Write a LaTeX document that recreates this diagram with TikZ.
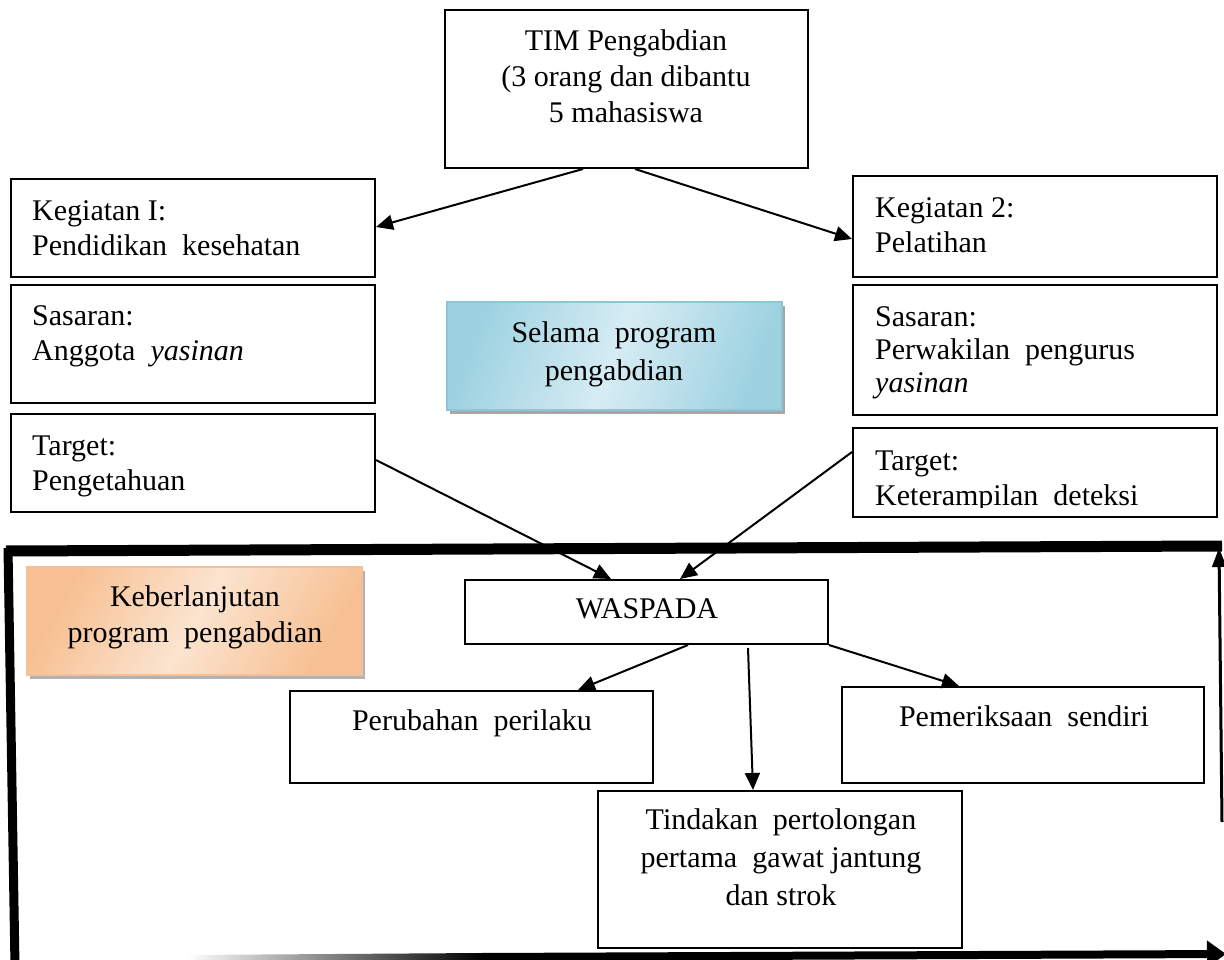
\documentclass[tikz,border=0pt]{standalone}
\usepackage{fontspec}
\setmainfont{Liberation Serif}
\usetikzlibrary{arrows.meta,shadows,calc}
\definecolor{bluedark}{RGB}{158,210,225}
\definecolor{bluelight}{RGB}{214,236,244}
\definecolor{blueedge}{RGB}{140,198,216}
\definecolor{ordark}{RGB}{247,192,146}
\definecolor{orlight}{RGB}{251,228,208}
\definecolor{oredge}{RGB}{246,192,150}
\newcommand\fl{\rule{0pt}{24pt}}
\newcommand\wsp{\hspace{0.5em}}
\begin{document}
\begin{tikzpicture}[x=1pt,y=-1pt,
  box/.style={draw=black, line width=2pt, inner sep=0pt, fill=white},
  txt/.style={inner sep=0pt, align=left, anchor=north west, font=\fontsize{30}{35}\selectfont},
  ctxt/.style={inner sep=0pt, align=center, anchor=north, font=\fontsize{30}{35}\selectfont},
  arr/.style={line width=2pt, -{Triangle[length=17pt,width=15pt]}},
  bluebox/.style={draw=blueedge, line width=1.2pt, inner sep=0pt,
    left color=bluedark, right color=bluedark, middle color=bluelight, shading angle=70,
    drop shadow={shadow xshift=3pt, shadow yshift=-4pt, fill=black, opacity=0.35}},
  orbox/.style={draw=oredge, line width=1.2pt, inner sep=0pt,
    left color=ordark, right color=ordark, middle color=orlight, shading angle=60,
    drop shadow={shadow xshift=3pt, shadow yshift=-4pt, fill=black, opacity=0.3}},
  frameline/.style={draw=black, line cap=butt}
]
\useasboundingbox (0,0) rectangle (1224,960);
\fill[white] (0,0) rectangle (1224,960);

% top box
\node[box, minimum width=363, minimum height=158] (tim) at (626.5,89) {};
\node[ctxt, font=\fontsize{30}{36}\selectfont] (timt) at (626,26) {\fl TIM Pengabdian\\(3 orang dan dibantu\\5 mahasiswa};

% left column
\node[box, minimum width=364, minimum height=98] (k1) at (193,228) {};
\node[txt] (k1t) at (32,196) {\fl Kegiatan I:\\Pendidikan\wsp kesehatan};
\node[box, minimum width=364, minimum height=118] (s1) at (193,344) {};
\node[txt] (s1t) at (32,301) {\fl Sasaran:\\Anggota\wsp \textit{yasinan}};
\node[box, minimum width=364, minimum height=98] (t1) at (193,463) {};
\node[txt] (t1t) at (32,431) {\fl Target:\\Pengetahuan};

% right column
\node[box, minimum width=364, minimum height=101] (k2) at (1035,226.5) {};
\node[txt] (k2t) at (875,193) {\fl Kegiatan 2:\\Pelatihan};
\node[box, minimum width=364, minimum height=130] (s2) at (1035,350) {};
\node[txt, font=\fontsize{30}{33}\selectfont] (s2t) at (875,302) {\fl Sasaran:\\Perwakilan\wsp pengurus\\\textit{yasinan}};
\node[box, minimum width=364, minimum height=89] (t2) at (1035,472.5) {};
\begin{scope}
\clip (853,428) rectangle (1217,507);
\node[txt] (t2t) at (875,446) {\fl Target:\\Keterampilan\wsp deteksi};
\end{scope}

% middle shaded box
\node[bluebox, minimum width=335, minimum height=108] (sel) at (614.5,356) {};
\node[ctxt, font=\fontsize{30}{38}\selectfont] (selt) at (614,318) {\fl Selama\wsp program\\pengabdian};

% lower part
\node[orbox, minimum width=335, minimum height=108] (keb) at (194.5,621) {};
\node[ctxt, font=\fontsize{30}{36}\selectfont] (kebt) at (195,582) {\fl Keberlanjutan\\program\wsp pengabdian};

\node[box, minimum width=363, minimum height=64] (wasp) at (646.5,612) {};
\node[ctxt] (waspt) at (647,594) {\fl WASPADA};

\node[box, minimum width=363, minimum height=92] (per) at (471.5,737) {};
\node[ctxt] (pert) at (472,706) {\fl Perubahan\wsp perilaku};

\node[box, minimum width=362, minimum height=96] (pem) at (1023,735) {};
\node[ctxt] (pemt) at (1024,702) {\fl Pemeriksaan\wsp sendiri};

\node[box, minimum width=364, minimum height=157] (tin) at (780,869.5) {};
\node[ctxt, font=\fontsize{30}{38}\selectfont] (tint) at (781,805) {\fl Tindakan\wsp pertolongan\\pertama\wsp gawat jantung\\dan strok};

% connectors
\draw[arr] ($(tim.south west)+(139,0)$) -- ($(k1.north east)+(0,49)$);
\draw[arr] ($(tim.south west)+(191,0)$) -- ($(k2.north west)+(0,64)$);
\draw[arr] ($(t1.north east)+(0,47)$) -- ($(wasp.north west)+(147,0)$);
\draw[arr] ($(t2.north west)+(0,25)$) -- ($(wasp.north west)+(216,0)$);
\draw[arr] ($(wasp.south west)+(224,0)$) -- ($(per.north west)+(289,0)$);
\draw[arr] ($(wasp.south west)+(284,3)$) -- ($(tin.north west)+(156,0)$);
\draw[arr] (wasp.south east) -- ($(pem.north west)+(118,0)$);

% big frame
\coordinate (ftl) at (6,551);
\coordinate (ftr) at (1222,546);
\coordinate (fll) at (8,548);
\coordinate (flb) at (15,966);
\coordinate (frb) at (1222,822);
\coordinate (frt) at (1219,548);
\coordinate (fbm) at (480,957);
\coordinate (fbr) at (1226,954);
\draw[frameline, line width=11pt] (ftl) -- (ftr);
\draw[frameline, line width=9pt] (fll) -- (flb);
\draw[line width=3pt, -{Triangle[length=19pt,width=14pt]}] (frb) -- (frt);
\shade[left color=white, right color=black] (187,955) -- (482,953) -- (482,961) -- (187,963) -- cycle;
\draw[frameline, line width=8pt, -{Triangle[length=19pt,width=26pt]}] (fbm) -- (fbr);
\end{tikzpicture}
\end{document}
